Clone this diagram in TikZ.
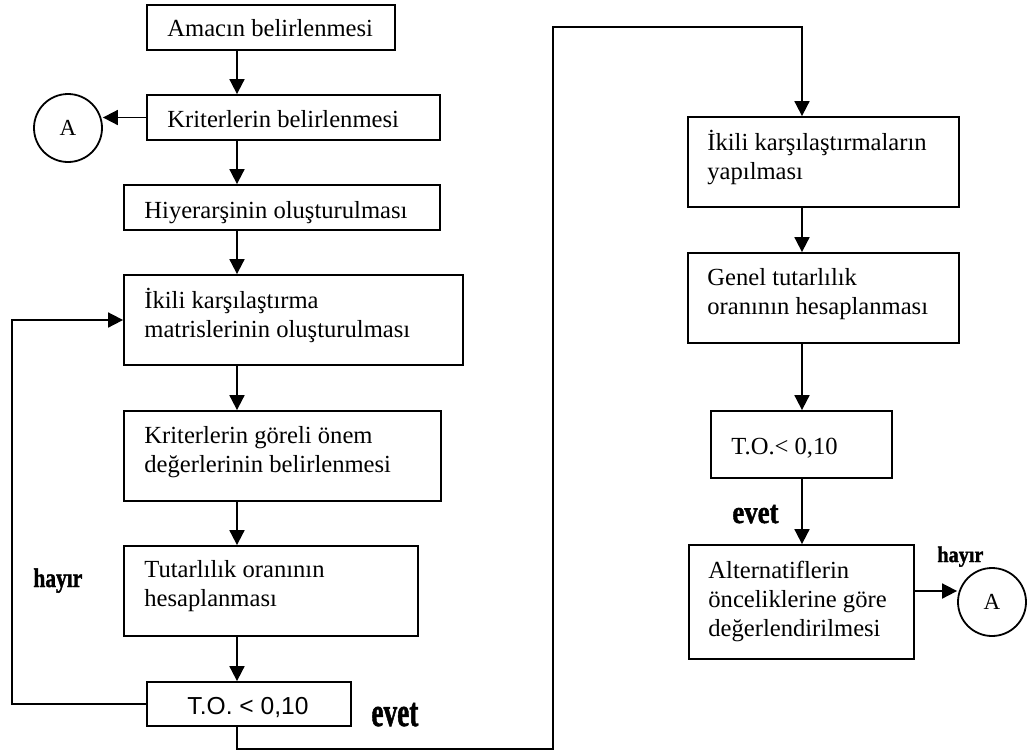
\documentclass[tikz,border=0pt]{standalone}
\usepackage{fontspec}
\usepackage{graphicx}
\setmainfont{Liberation Serif}
\newfontfamily\arialf{Liberation Sans}
\newfontfamily\labfont[BoldFeatures={FakeBold=1.5}]{Liberation Serif}
\usetikzlibrary{arrows.meta,calc}
\begin{document}
\begin{tikzpicture}[x=0.5pt,y=-0.5pt,
  box/.style={draw,line width=0.9pt,inner sep=0,rectangle},
  txt/.style={anchor=base west,inner sep=0,font=\fontsize{12.3pt}{14.5pt}\selectfont},
  arr/.style={line width=0.9pt,-{Triangle[length=7.5pt,width=7.5pt]}},
  conn/.style={draw,circle,line width=0.9pt,minimum size=34pt,inner sep=0,font=\fontsize{11.5pt}{13pt}\selectfont},
  lab/.style={inner sep=0,anchor=base west}]
\useasboundingbox (0,0) rectangle (1029,751);

% boxes
\node[box,minimum width=124pt,minimum height=22.5pt] (b1) at (271,27.5) {};
\node[box,minimum width=146.5pt,minimum height=22.5pt] (b2) at (293.5,117.5) {};
\node[box,minimum width=158pt,minimum height=22.5pt] (b3) at (282,207.5) {};
\node[box,minimum width=169.5pt,minimum height=45pt] (b4) at (293.5,320) {};
\node[box,minimum width=158.5pt,minimum height=45pt] (b5) at (282.5,456) {};
\node[box,minimum width=147pt,minimum height=45pt] (b6) at (271,591) {};
\node[box,minimum width=102pt,minimum height=22pt] (b7) at (249,704) {};
\node[box,minimum width=135.5pt,minimum height=45pt] (b8) at (823.5,162) {};
\node[box,minimum width=135.5pt,minimum height=45pt] (b9) at (823.5,298) {};
\node[box,minimum width=90.5pt,minimum height=33.5pt] (b10) at (801.5,444.5) {};
\node[box,minimum width=112.5pt,minimum height=57pt] (b11) at (801.5,602) {};

% texts
\node[txt] (t1) at (167,36) {Amacın belirlenmesi};
\node[txt] (t2) at (167,127) {Kriterlerin belirlenmesi};
\node[txt] (t3) at (144,218) {Hiyerarşinin oluşturulması};
\node[txt] (t4) at (144,308) {\begin{tabular}[t]{@{}l@{}}İkili karşılaştırma\\matrislerinin oluşturulması\end{tabular}};
\node[txt] (t5) at (144,443) {\begin{tabular}[t]{@{}l@{}}Kriterlerin göreli önem\\değerlerinin belirlenmesi\end{tabular}};
\node[txt] (t6) at (144,577) {\begin{tabular}[t]{@{}l@{}}Tutarlılık oranının\\hesaplanması\end{tabular}};
\node[txt,anchor=base,font=\arialf\fontsize{12.3pt}{14.5pt}\selectfont] (t7) at (248,714) {T.O. < 0,10};
\node[txt] (t8) at (707,150) {\begin{tabular}[t]{@{}l@{}}İkili karşılaştırmaların\\yapılması\end{tabular}};
\node[txt] (t9) at (707,285) {\begin{tabular}[t]{@{}l@{}}Genel tutarlılık\\oranının hesaplanması\end{tabular}};
\node[txt] (t10) at (731,454) {T.O.< 0,10};
\node[txt] (t11) at (708,578) {\begin{tabular}[t]{@{}l@{}}Alternatiflerin\\önceliklerine göre\\değerlendirilmesi\end{tabular}};

% connectors A
\node[conn] (A1) at (68,128) {A};
\node[conn] (A2) at (992,602) {A};

% labels
\node[lab] (h1) at (33,587) {\scalebox{1}[1.25]{\labfont\fontsize{10.75pt}{12pt}\selectfont\bfseries hayır}};
\node[lab] (h2) at (937,562) {\scalebox{1}[1.1]{\labfont\fontsize{10.1pt}{12pt}\selectfont\bfseries hayır}};
\node[lab] (e1) at (371,726) {\scalebox{1}[1.5]{\labfont\fontsize{13.65pt}{15pt}\selectfont\bfseries evet}};
\node[lab] (e2) at (732,523) {\scalebox{1}[1.2]{\labfont\fontsize{13.4pt}{15pt}\selectfont\bfseries evet}};

% guide coordinates
\coordinate (colL) at (237,0);
\coordinate (colR) at (802,0);
\coordinate (colFB) at (12,0);
\coordinate (colMid) at (553,0);
\coordinate (rowBot) at (0,749);
\coordinate (rowTop) at (0,27);
\coordinate (yA2) at (0,591);

% arrows left column
\draw[arr] (colL |- b1.south) -- (colL |- b2.north);
\draw[arr] (colL |- b2.south) -- (colL |- b3.north);
\draw[arr] (colL |- b3.south) -- (colL |- b4.north);
\draw[arr] (colL |- b4.south) -- (colL |- b5.north);
\draw[arr] (colL |- b5.south) -- (colL |- b6.north);
\draw[arr] (colL |- b6.south) -- (colL |- b7.north);
\draw[arr] (b2.west) -- (b2.west -| A1.east);
\draw[arr] (b7.west) -- (colFB |- b7.west) -- (colFB |- b4.west) -- (b4.west);
\draw[arr] (colL |- b7.south) -- (colL |- rowBot) -- (colMid |- rowBot) -- (colMid |- rowTop) -- (colR |- rowTop) -- (colR |- b8.north);
% right column
\draw[arr] (colR |- b8.south) -- (colR |- b9.north);
\draw[arr] (colR |- b9.south) -- (colR |- b10.north);
\draw[arr] (colR |- b10.south) -- (colR |- b11.north);
\draw[arr] (b11.east |- yA2) -- (A2.west |- yA2);
\end{tikzpicture}
\end{document}
